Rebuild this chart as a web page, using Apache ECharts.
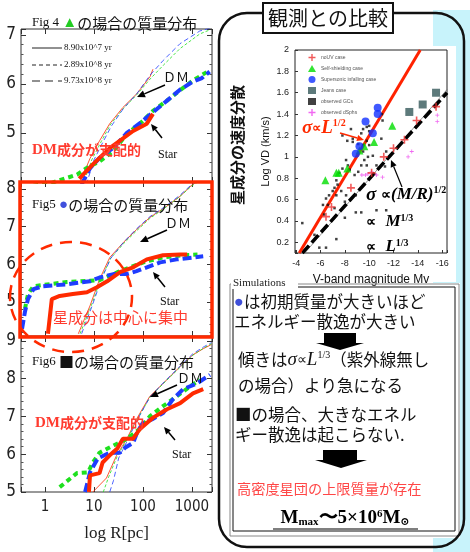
<!DOCTYPE html>
<html>
<head>
<meta charset="utf-8">
<script src="https://cdn.jsdelivr.net/npm/echarts@6/dist/echarts.min.js"></script>
<style>
  html, body { margin: 0; padding: 0; background: #fff; }
  #main { width: 470px; height: 552px; }
</style>
</head>
<body>
<div id="main"></div>
<script>
// 左: 質量分布  [R(pc), log M(<R)]
var fig4DmRed = [[5, 3.95], [8.3, 4.48], [13, 4.84], [21, 5.19], [39, 5.52], [75, 5.8], [140, 6.15], [160, 6.3]]
var fig4DmGreen = [[6, 3.95], [9, 4.45], [14, 4.82], [22, 5.18], [40, 5.5], [75, 5.78], [140, 6.1], [260, 6.38], [570, 6.72], [1450, 7.02], [2300, 7.1]]
var fig4DmBlue = [[7, 3.95], [10, 4.45], [15, 4.8], [23, 5.15], [40, 5.5], [75, 5.8], [140, 6.18], [260, 6.48], [570, 6.82], [1450, 7.08], [2400, 7.14]]
var fig4StarGreen = [[0.38, 3.9], [1.25, 3.97], [4.5, 4.15], [7, 4.28], [13, 4.42], [25, 4.63], [47, 4.98], [87, 5.19], [160, 5.45], [310, 5.66], [570, 5.87], [1050, 6.07], [2000, 6.24]]
var fig4StarBlue = [[5.6, 3.95], [8.3, 4.28], [13, 4.49], [25, 4.7], [47, 5.0], [87, 5.2], [160, 5.42], [310, 5.66], [570, 5.88], [1050, 6.05], [1600, 6.12], [2300, 6.25]]
var fig4StarRed = [[5, 4.07], [9.5, 4.36], [21, 4.69], [63, 5.04], [120, 5.19], [160, 5.39]]

var fig5DmRed = [[4.8, 4.16], [8.3, 4.9], [13, 5.6], [21, 6.18], [40, 6.58], [74, 6.92], [138, 7.24], [300, 7.53], [570, 7.8], [1000, 8.1], [1300, 8.2]]
var fig5DmGreen = [[5.2, 4.16], [8.8, 4.9], [13.5, 5.58], [22, 6.16], [41, 6.56], [76, 6.9], [140, 7.22], [300, 7.52], [570, 7.8], [1000, 8.08], [1400, 8.2]]
var fig5DmBlue = [[5.6, 4.16], [9.2, 4.9], [14, 5.58], [22, 6.16], [40, 6.58], [74, 6.94], [138, 7.26], [300, 7.55], [570, 7.83], [1000, 8.12], [1300, 8.2]]
var fig5StarBlue = [[0.34, 4.29], [0.39, 4.74], [0.45, 5.08], [0.58, 5.34], [0.91, 5.42], [2.8, 5.47], [8.3, 5.55], [13, 5.65], [25, 5.74], [47, 5.74], [74, 5.82], [120, 5.92], [224, 6.05], [490, 6.13], [1050, 6.18], [1700, 6.21]]
var fig5StarGreen = [[0.39, 4.82], [0.45, 5.21], [0.58, 5.42], [2.8, 5.53], [13, 5.58], [30, 5.79], [63, 5.95], [120, 6.08], [257, 6.18], [660, 6.24], [1300, 6.26]]
var fig5StarRed = [[1.15, 4.16], [1.38, 5.08], [2.0, 5.16], [3.7, 5.21], [7.2, 5.26], [11.5, 5.39], [18.6, 5.55], [34, 5.79], [63, 5.92], [120, 6.13], [257, 6.24], [575, 6.26], [800, 6.26]]

var fig6DmRed = [[9.5, 5.0], [18, 5.37], [29, 5.97], [47, 6.41], [74, 6.93], [138, 7.53], [257, 7.87], [575, 8.32], [1050, 8.63], [1700, 8.79], [2500, 8.9]]
var fig6DmGreen = [[15.5, 5.0], [20, 5.4], [30, 5.95], [48, 6.4], [75, 6.9], [138, 7.5], [257, 7.86], [575, 8.3], [1050, 8.62], [1800, 8.82], [2500, 8.92]]
var fig6DmBlue = [[21, 5.0], [25, 5.3], [32, 5.9], [49, 6.38], [76, 6.9], [140, 7.52], [257, 7.88], [575, 8.33], [1050, 8.66], [1800, 8.85], [2500, 8.95]]
var fig6StarGreen = [[2.0, 5.13], [4.5, 5.5], [7.6, 5.52], [9.5, 5.78], [13, 6.04], [25, 6.23], [47, 6.41], [87, 6.67], [138, 7.0], [257, 7.27], [490, 7.53], [910, 7.79], [1450, 7.97]]
var fig6StarBlue = [[6.6, 5.0], [8.3, 5.52], [12, 5.89], [21, 6.04], [34, 6.04], [43, 6.17], [63, 6.3], [76, 6.57], [100, 6.83], [158, 6.93], [257, 7.09], [407, 7.45], [660, 7.72], [1260, 7.87], [2340, 8.1]]
var fig6StarRed = [[7.9, 5.0], [8.3, 5.44], [13, 5.5], [15, 5.78], [21, 5.97], [30, 6.15], [39, 6.41], [63, 6.41], [87, 6.67], [158, 6.96], [310, 7.19], [575, 7.35], [1050, 7.61], [1700, 7.72]]

// 右: 速度分散  [Mv, log VD]
var noUvCase = [[-6.45, 0.44], [-6.9, 0.53], [-8.5, 0.71], [-10.2, 0.85], [-11.2, 1.0], [-12.0, 1.08], [-12.9, 1.16], [-13.9, 1.34], [-15.5, 1.47]]
var selfShielding = [[-6.4, 0.78], [-7.3, 0.85], [-7.5, 0.85], [-8.2, 0.89], [-9.2, 1.06], [-9.6, 1.1], [-10.4, 1.14], [-11.9, 1.29]]
var supersonic = [[-8.9, 1.03], [-9.2, 1.1], [-9.7, 1.33], [-10.3, 1.22], [-10.7, 1.40], [-10.7, 1.46]]
var jeansCase = [[-13.3, 1.42], [-14.4, 1.49], [-15.5, 1.6]]
var observedGCs = [[-9.5, 1.26], [-9.8, 1.28], [-10.0, 1.24], [-9.35, 1.22], [-11.1, 1.34], [-11.05, 1.40], [-7.8, 1.20], [-8.2, 1.15], [-8.65, 1.14], [-9.1, 1.12], [-9.5, 1.11], [-9.8, 1.15], [-10.0, 1.11], [-9.5, 1.05], [-9.9, 1.0], [-9.6, 0.97], [-9.8, 0.92], [-9.35, 0.92], [-8.1, 0.97], [-8.25, 0.92], [-7.8, 0.89], [-7.55, 0.85], [-8.4, 0.88], [-8.8, 0.83], [-9.1, 0.86], [-7.3, 0.78], [-7.4, 0.74], [-7.15, 0.71], [-7.0, 0.68], [-7.3, 0.64], [-6.7, 0.64], [-7.7, 0.68], [-8.1, 0.64], [-8.9, 0.64], [-8.0, 0.58], [-6.45, 0.61], [-6.2, 0.55], [-6.6, 0.55], [-7.15, 0.52], [-6.3, 0.46], [-8.0, 0.43], [-8.9, 0.48], [-4.5, 0.38], [-5.5, 0.27], [-7.3, 0.23], [-6.45, 0.15], [-11.4, 1.05], [-11.3, 0.91], [-10.6, 0.92], [-10.3, 1.01], [-10.6, 0.5], [-11.4, 0.5], [-5.9, 0.15], [-9.35, 0.48], [-8.5, 1.26], [-10.0, 1.29], [-11.0, 1.17], [-8.65, 1.17]]
var observedDSphs = [[-9.4, 0.83], [-9.7, 0.83], [-9.9, 0.84], [-10.2, 0.86], [-10.6, 0.83], [-11.1, 0.81], [-13.2, 1.0], [-13.5, 1.05], [-15.6, 1.39], [-15.6, 1.33]]
var sigmaL12 = [[-4.25, 0.1], [-14.2, 2.0]]
var sigmaL13 = [[-4.5, 0.1], [-16.4, 1.6]]
var sigmaThin = [[-4.7, 0.1], [-16.4, 1.63]]

var legendNames = ['noUV case', 'Self-shielding case', 'Supersonic infalling case', 'Jeans case', 'observed GCs', 'observed dSphs']
var rTicks = [1, 10, 100, 1000]
var vdTicks = ['0.2', '0.4', '0.6', '0.8', '1', '1.2', '1.4', '1.6', '1.8', '2']

var JP = '"Noto Sans CJK JP", sans-serif'
var SERIF = '"Liberation Serif", "DejaVu Serif", serif'
var NARROW = '"Liberation Sans Narrow", "DejaVu Sans Condensed", "Liberation Sans", sans-serif'
var SANS = '"Liberation Sans", Arial, sans-serif'
var RED = '#ff2a00', GREEN = '#1ee01e', BLUE = '#1f3cff'
var PLUS = 'path://M4,0H6V4H10V6H6V10H4V6H0V4H4Z'

var myChart = echarts.init(document.getElementById('main'))

function intLabel(v) {
  var r = Math.round(v)
  return Math.abs(v - r) < 1e-6 ? String(r) : ''
}

function xLog(grid, pos, showLabel) {
  return {
    type: 'log', logBase: 10, gridIndex: grid, position: pos, min: 0.324, max: 2570,
    axisLine: { show: false },
    axisTick: { show: true, inside: true, length: 5, lineStyle: { color: '#333' } },
    splitLine: { show: false },
    axisLabel: {
      show: showLabel, fontSize: 15, fontFamily: NARROW, color: '#222', margin: 8,
      formatter: function (v) {
        var r = Math.round(v)
        return (Math.abs(v - r) < 1e-6 && rTicks.indexOf(r) >= 0) ? String(r) : ''
      }
    },
    name: showLabel ? 'log R[pc]' : '', nameLocation: 'middle', nameGap: 33,
    nameTextStyle: { fontSize: 17, fontFamily: SERIF, color: '#222' }
  }
}

function yLin(grid, min, max, pos, showLabel, hideMin) {
  return {
    type: 'value', gridIndex: grid, position: pos, min: min, max: max,
    minInterval: 1, maxInterval: 1,
    axisLine: { show: false },
    axisTick: { show: true, inside: true, length: 5, lineStyle: { color: '#333' } },
    minorTick: { show: true, splitNumber: 5, length: 2.5, lineStyle: { color: '#555' } },
    splitLine: { show: false },
    axisLabel: {
      show: showLabel, fontSize: 17, fontFamily: NARROW, color: '#222', margin: 5,
      formatter: function (v) { return (hideMin && v <= min) ? '' : intLabel(v) }
    }
  }
}

function curve(data, axis, color, width, dash) {
  return {
    type: 'line', xAxisIndex: axis, yAxisIndex: axis, data: data, symbol: 'none', silent: true,
    lineStyle: { color: color, width: width, type: dash || 'solid', cap: 'butt' }, z: width > 2 ? 4 : 3
  }
}

function panelCurves(axis, dm, star) {
  return [
    curve(dm[0], axis, RED, 0.8),
    curve(dm[1], axis, GREEN, 0.8, [3, 2]),
    curve(dm[2], axis, BLUE, 0.8, [5, 3]),
    curve(star[0], axis, GREEN, 4, [5, 4]),
    curve(star[1], axis, BLUE, 4, [9, 4]),
    curve(star[2], axis, RED, 4)
  ]
}

function T(x, y, text, o) {
  var s = { text: text, fill: '#111', fontSize: 14, fontFamily: JP, align: 'left', verticalAlign: 'middle' }
  for (var k in o) s[k] = o[k]
  s.textAlign = s.align
  s.textVerticalAlign = s.verticalAlign
  return { type: 'text', x: x, y: y, z: 120, style: s }
}

function arrow(x1, y1, x2, y2, color, w, hl) {
  var a = Math.atan2(y2 - y1, x2 - x1), hw = hl * 0.45
  var bx = x2 - hl * Math.cos(a), by = y2 - hl * Math.sin(a)
  var px = -Math.sin(a) * hw, py = Math.cos(a) * hw
  return [
    { type: 'line', z: 120, shape: { x1: x1, y1: y1, x2: bx, y2: by }, style: { stroke: color, lineWidth: w } },
    { type: 'polygon', z: 120, shape: { points: [[x2, y2], [bx + px, by + py], [bx - px, by - py]] }, style: { fill: color } }
  ]
}

function blockArrow(x1, x2, hx1, hx2, top, mid, tip) {
  return {
    type: 'polygon', z: 120,
    shape: { points: [[x1, top], [x2, top], [x2, mid], [hx2, mid], [(hx1 + hx2) / 2, tip], [hx1, mid], [x1, mid]] },
    style: { fill: '#000' }
  }
}

var supRich = {
  s: { fontFamily: SERIF, fontStyle: 'italic', fontWeight: 'bold', fontSize: 19 },
  p: { fontFamily: SANS, fontWeight: 'bold', fontSize: 13 },
  sup: { fontFamily: SERIF, fontWeight: 'bold', fontSize: 10, verticalAlign: 'top' }
}

var graphics = [
  // 背景
  { type: 'rect', z: -10, shape: { x: 433, y: 10, width: 37, height: 542 }, style: { fill: '#c8f3fb' } },
  { type: 'rect', z: -9, shape: { x: 226, y: 46, width: 230, height: 236 }, style: { fill: '#fff' } },
  { type: 'rect', z: -9, shape: { x: 230, y: 283, width: 230, height: 255 }, style: { fill: '#fff' } },
  { type: 'rect', z: 110, shape: { x: 219, y: 13, width: 245, height: 534, r: 28 }, style: { fill: 'none', stroke: '#111', lineWidth: 2.5 } },
  { type: 'rect', z: 115, shape: { x: 263, y: 3, width: 130, height: 30 }, style: { fill: '#fff', stroke: '#111', lineWidth: 2 } },
  T(328, 18, '観測との比較', { align: 'center', fontSize: 20 }),

  // Fig4
  T(32, 23, '{f|Fig 4 }{g|▲}の場合の質量分布', { fontSize: 15, rich: { f: { fontFamily: SERIF, fontSize: 13 }, g: { fill: '#22cc22', fontSize: 15 } } }),
  { type: 'line', z: 120, shape: { x1: 32, y1: 48, x2: 62, y2: 48 }, style: { stroke: '#222', lineWidth: 1 } },
  { type: 'line', z: 120, shape: { x1: 32, y1: 65, x2: 62, y2: 65 }, style: { stroke: '#222', lineWidth: 1, lineDash: [4, 3] } },
  { type: 'line', z: 120, shape: { x1: 32, y1: 81, x2: 62, y2: 81 }, style: { stroke: '#222', lineWidth: 1.2, lineDash: [8, 5] } },
  T(64, 48, '8.90x10^7 yr', { fontFamily: SERIF, fontSize: 9 }),
  T(64, 65, '2.89x10^8 yr', { fontFamily: SERIF, fontSize: 9 }),
  T(64, 81, '9.73x10^8 yr', { fontFamily: SERIF, fontSize: 9 }),
  T(163, 77, 'ＤＭ', { fontSize: 13 }),
  T(158, 155, 'Star', { fontFamily: SERIF, fontSize: 12 }),
  T(32, 150, '{d|DM}成分が支配的', { fill: '#ff3b2f', fontWeight: 'bold', fontSize: 14, rich: { d: { fontFamily: SERIF, fontWeight: 'bold', fontSize: 15, fill: '#ff3b2f' } } }),

  // Fig5
  T(32, 205, '{f|Fig5 }{g|●}の場合の質量分布', { fontSize: 15, rich: { f: { fontFamily: SERIF, fontSize: 13 }, g: { fill: '#4050dd', fontSize: 15 } } }),
  T(165, 223, 'ＤＭ', { fontSize: 13 }),
  T(160, 302, 'Star', { fontFamily: SERIF, fontSize: 12 }),
  { type: 'ellipse', z: 118, shape: { cx: 71, cy: 297, rx: 61, ry: 55 }, style: { fill: 'none', stroke: RED, lineWidth: 2.5, lineDash: [12, 8] } },
  T(53, 317, '星成分は中心に集中', { fill: '#ff3b2f', fontSize: 15 }),
  { type: 'rect', z: 119, shape: { x: 20, y: 182, width: 192, height: 155 }, style: { fill: 'none', stroke: RED, lineWidth: 3.5 } },

  // Fig6
  T(32, 362, '{f|Fig6 }■の場合の質量分布', { fontSize: 15, rich: { f: { fontFamily: SERIF, fontSize: 13 } } }),
  T(177, 378, 'ＤＭ', { fontSize: 13 }),
  T(172, 455, 'Star', { fontFamily: SERIF, fontSize: 12 }),
  T(35, 423, '{d|DM}成分が支配的', { fill: '#ff3b2f', fontWeight: 'bold', fontSize: 14, rich: { d: { fontFamily: SERIF, fontWeight: 'bold', fontSize: 15, fill: '#ff3b2f' } } }),

  // 速度分散の図
  (function () { var t = T(237, 145, '星成分の速度分散', { align: 'center', fontSize: 15, fontWeight: 'bold' }); t.rotation = Math.PI / 2; return t })(),
  T(302, 128, '{s|σ}{p|∝}{s|L}{sup|1/2}', { fill: RED, rich: supRich }),
  T(366, 195, '{s|σ }{p|∝}{m|(M/R)}{sup|1/2}', { fill: '#000', rich: { s: supRich.s, p: { fontFamily: SANS, fontWeight: 'bold', fontSize: 14 }, m: { fontFamily: SERIF, fontStyle: 'italic', fontWeight: 'bold', fontSize: 17 }, sup: supRich.sup } }),
  T(366, 222, '{p|∝}   {m|M}{sup|1/3}', { fill: '#000', rich: { p: { fontFamily: SANS, fontWeight: 'bold', fontSize: 14 }, m: { fontFamily: SERIF, fontStyle: 'italic', fontWeight: 'bold', fontSize: 17 }, sup: supRich.sup } }),
  T(366, 247, '{p|∝}   {m|L}{sup|1/3}', { fill: '#000', rich: { p: { fontFamily: SANS, fontWeight: 'bold', fontSize: 14 }, m: { fontFamily: SERIF, fontStyle: 'italic', fontWeight: 'bold', fontSize: 17 }, sup: supRich.sup } }),

  // Simulations
  { type: 'rect', z: 100, shape: { x: 230, y: 284, width: 229, height: 252 }, style: { fill: 'none', stroke: '#888', lineWidth: 1 } },
  { type: 'rect', z: 100, shape: { x: 233, y: 287, width: 222, height: 244 }, style: { fill: 'none', stroke: '#111', lineWidth: 1 } },
  { type: 'rect', z: 101, shape: { x: 231, y: 276, width: 67, height: 13 }, style: { fill: '#fff' } },
  T(233, 283, 'Simulations', { fontFamily: SERIF, fontSize: 11, fill: '#222' }),
  T(234, 302, '{b|●}は初期質量が大きいほど', { fontSize: 16.5, rich: { b: { fill: '#3f4fd8', fontSize: 16.5 } } }),
  T(234, 322, 'エネルギー散逸が大きい', { fontSize: 16.5 }),
  blockArrow(324, 356, 316, 364, 333, 343, 350),
  T(238, 360, '傾きは{s|σ}{p|∝}{l|L}{sup|1/3}（紫外線無し', { fontSize: 16.5, rich: { s: { fontFamily: SERIF, fontStyle: 'italic', fontSize: 19 }, p: { fontFamily: SANS, fontSize: 14 }, l: { fontFamily: SERIF, fontStyle: 'italic', fontSize: 19 }, sup: { fontFamily: SERIF, fontSize: 10, verticalAlign: 'top' } } }),
  T(238, 386, 'の場合）より急になる', { fontSize: 16.5 }),
  T(235, 415, '■の場合、大きなエネル', { fontSize: 16.5 }),
  T(235, 435, 'ギー散逸は起こらない.', { fontSize: 16.5 }),
  blockArrow(323, 357, 315, 367, 450, 460, 468),
  T(237, 489, '高密度星団の上限質量が存在', { fontSize: 14.2, fill: '#ff4646' }),
  T(345, 518, '{m|M}{sub|max}{m|〜5×10}{sup|6}{m|M}{sub|⊙}', { align: 'center', fill: '#000', rich: { m: { fontFamily: SERIF, fontWeight: 'bold', fontSize: 19 }, sub: { fontFamily: SERIF, fontWeight: 'bold', fontSize: 11, verticalAlign: 'bottom' }, sup: { fontFamily: SERIF, fontWeight: 'bold', fontSize: 11, verticalAlign: 'top' } } }),
  { type: 'line', z: 120, shape: { x1: 273, y1: 529, x2: 418, y2: 529 }, style: { stroke: '#000', lineWidth: 1.2 } }
]

graphics = graphics.concat(
  arrow(165, 85, 137, 97, '#000', 1.5, 8),
  arrow(162, 138, 151, 124, '#000', 1.5, 7),
  arrow(167, 230, 140, 242, '#000', 1.5, 8),
  arrow(165, 287, 153, 272, '#000', 1.5, 7),
  arrow(177, 385, 150, 397, '#000', 1.5, 8),
  arrow(175, 440, 164, 427, '#000', 1.5, 7),
  arrow(340, 133, 364, 140, RED, 1.5, 7),
  arrow(402, 187, 391, 160, '#000', 1.2, 7)
)

var series = []
  .concat(panelCurves(0, [fig4DmRed, fig4DmGreen, fig4DmBlue], [fig4StarGreen, fig4StarBlue, fig4StarRed]))
  .concat(panelCurves(1, [fig5DmRed, fig5DmGreen, fig5DmBlue], [fig5StarGreen, fig5StarBlue, fig5StarRed]))
  .concat(panelCurves(2, [fig6DmRed, fig6DmGreen, fig6DmBlue], [fig6StarGreen, fig6StarBlue, fig6StarRed]))
  .concat([
    { type: 'line', xAxisIndex: 3, yAxisIndex: 3, data: sigmaThin, symbol: 'none', lineStyle: { color: '#666', width: 0.7 }, z: 3 },
    { type: 'line', xAxisIndex: 3, yAxisIndex: 3, data: sigmaL13, symbol: 'none', lineStyle: { color: '#000', width: 3.5, type: [10, 4] }, z: 3 },
    { type: 'line', xAxisIndex: 3, yAxisIndex: 3, data: sigmaL12, symbol: 'none', lineStyle: { color: '#ff2200', width: 3 }, z: 3 },
    { name: legendNames[4], type: 'scatter', xAxisIndex: 3, yAxisIndex: 3, data: observedGCs, symbol: 'rect', symbolSize: 2.5, itemStyle: { color: '#111' }, z: 4 },
    { name: legendNames[5], type: 'scatter', xAxisIndex: 3, yAxisIndex: 3, data: observedDSphs, symbol: PLUS, symbolSize: 4, itemStyle: { color: '#ee44ee' }, z: 4 },
    { name: legendNames[0], type: 'scatter', xAxisIndex: 3, yAxisIndex: 3, data: noUvCase, symbol: PLUS, symbolSize: 8, itemStyle: { color: '#ee3030' }, z: 5 },
    { name: legendNames[1], type: 'scatter', xAxisIndex: 3, yAxisIndex: 3, data: selfShielding, symbol: 'triangle', symbolSize: 8, itemStyle: { color: '#00dd00' }, z: 5 },
    { name: legendNames[2], type: 'scatter', xAxisIndex: 3, yAxisIndex: 3, data: supersonic, symbol: 'circle', symbolSize: 8, itemStyle: { color: '#1030ff' }, z: 6 },
    { name: legendNames[3], type: 'scatter', xAxisIndex: 3, yAxisIndex: 3, data: jeansCase, symbol: 'rect', symbolSize: 8, itemStyle: { color: '#35595a' }, z: 5 }
  ])

var option = {
  animation: false,
  backgroundColor: '#fff',
  grid: [
    { left: 21, top: 29, width: 191, height: 153, show: true, borderColor: '#333', borderWidth: 1 },
    { left: 21, top: 182, width: 191, height: 154, show: true, borderColor: '#333', borderWidth: 1 },
    { left: 21, top: 337, width: 191, height: 155, show: true, borderColor: '#333', borderWidth: 1 },
    { left: 295, top: 50, width: 152, height: 203, show: true, borderColor: '#222', borderWidth: 1 }
  ],
  legend: {
    data: legendNames, left: 303, top: 49, orient: 'vertical', selectedMode: false,
    itemWidth: 8, itemHeight: 7, itemGap: 4,
    textStyle: { fontSize: 5, color: '#555', fontFamily: SANS }
  },
  xAxis: [
    xLog(0, 'bottom', false), xLog(1, 'bottom', false), xLog(2, 'bottom', true),
    {
      type: 'value', gridIndex: 3, inverse: true, min: -16.4, max: -3.9, minInterval: 2, maxInterval: 2,
      axisLine: { show: false }, splitLine: { show: false },
      axisTick: { inside: true, length: 3, lineStyle: { color: '#333' } },
      axisLabel: { fontSize: 9, fontFamily: SANS, color: '#222', margin: 6, formatter: intLabel },
      name: 'V-band magnitude Mv', nameLocation: 'middle', nameGap: 21,
      nameTextStyle: { fontSize: 12, fontFamily: SANS, color: '#111' }
    },
    xLog(0, 'top', false), xLog(1, 'top', false), xLog(2, 'top', false)
  ],
  yAxis: [
    yLin(0, 4, 7.12, 'left', true, true), yLin(1, 4.1, 8.18, 'left', true), yLin(2, 5, 9.1, 'left', true),
    {
      type: 'value', gridIndex: 3, min: 0.1, max: 2, minInterval: 0.2, maxInterval: 0.2, z: 130,
      axisLine: { show: false }, splitLine: { show: false },
      axisTick: { inside: true, length: 3, lineStyle: { color: '#333' } },
      axisLabel: {
        fontSize: 9, fontFamily: SANS, color: '#222', margin: 6,
        showMinLabel: true, showMaxLabel: true, hideOverlap: false,
        formatter: function (v) {
          var s = String(+v.toFixed(1))
          return vdTicks.indexOf(s) >= 0 ? s : ''
        }
      },
      name: 'Log VD (km/s)', nameLocation: 'middle', nameGap: 24, nameRotate: 90,
      nameTextStyle: { fontSize: 11, fontFamily: SANS, color: '#111' }
    },
    yLin(0, 4, 7.12, 'right', false), yLin(1, 4.1, 8.18, 'right', false), yLin(2, 5, 9.1, 'right', false)
  ],
  series: series,
  graphic: { elements: graphics }
}

myChart.setOption(option)

// 速度分散の上端ラベルが描かれていなければ、軸の座標変換で位置を取って補う
function fixVdLabels() {
  var want = ['2', '1.8']
  var shown = {}
  myChart.getZr().storage.getDisplayList(true).forEach(function (el) {
    var t = el.style && el.style.text
    if (want.indexOf(t) < 0 || el.invisible || el.ignore) return
    var r = el.getBoundingRect().clone()
    var m = el.getComputedTransform ? el.getComputedTransform() : el.transform
    if (m) r.applyTransform(m)
    if (r.x > 240 && r.x < 300 && r.y > 30 && r.y < 90) shown[t] = true
  })
  var extra = []
  want.forEach(function (t) {
    if (shown[t]) return
    var y = myChart.convertToPixel({ yAxisIndex: 3 }, +t)
    extra.push(T(289, y, t, { align: 'right', fontSize: 9, fontFamily: SANS, fill: '#222' }))
  })
  if (extra.length) myChart.setOption({ graphic: { elements: graphics.concat(extra) } })
}
fixVdLabels()
</script>
</body>
</html>
